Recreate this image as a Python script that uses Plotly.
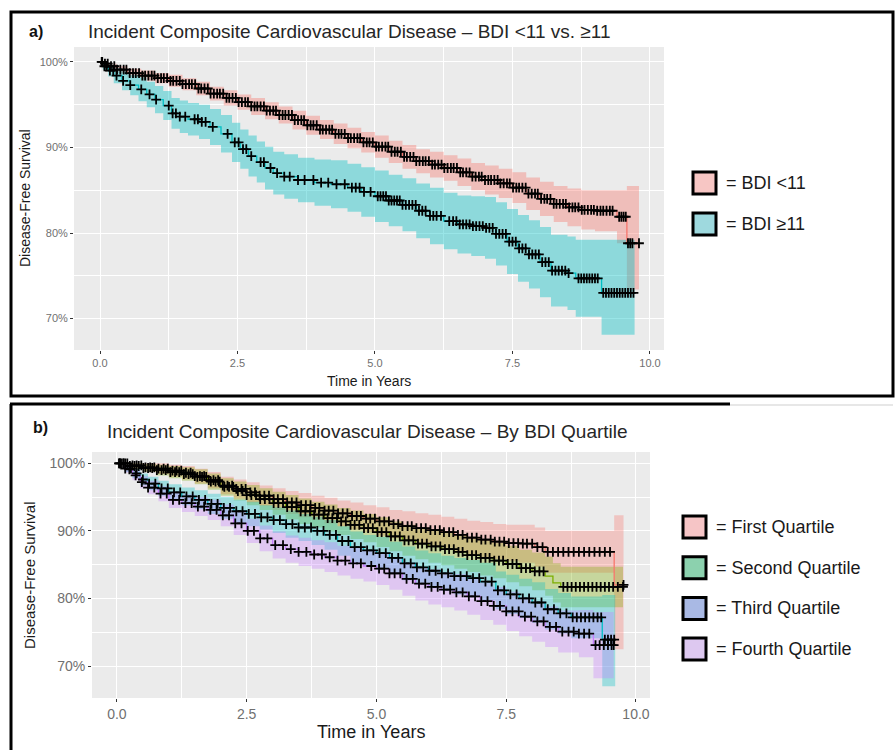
import numpy as np
import plotly.graph_objects as go

# ---------------- DATA: panel a) ----------------
a_names = ["= BDI <11", "= BDI \u226511"]

a1_t = [0, 0.05, 0.15, 0.3, 0.5, 0.75, 1.0, 1.25, 1.5, 1.75, 2.0, 2.25, 2.5, 2.75, 3.0, 3.25, 3.5, 3.75, 4.0,
        4.25, 4.5, 4.75, 5.0, 5.25, 5.5, 5.75, 6.0, 6.25, 6.5, 6.75, 7.0, 7.25, 7.5, 7.75, 8.0, 8.25, 8.5,
        8.75, 9.0, 9.4, 9.58, 9.8]
a1_s = [100, 99.8, 99.5, 99.1, 98.7, 98.4, 98.1, 97.8, 97.4, 96.9, 96.3, 95.8, 95.3, 94.8, 94.3, 93.8, 93.2,
        92.6, 92.1, 91.6, 91.1, 90.6, 90.1, 89.5, 88.9, 88.4, 88.0, 87.6, 87.1, 86.6, 86.2, 85.8, 85.3, 84.6,
        84.0, 83.4, 83.0, 82.7, 82.6, 81.9, 78.8, 78.8]
a1_hi = [100, 100, 99.8, 99.5, 99.2, 99.0, 98.7, 98.5, 98.1, 97.7, 97.1, 96.7, 96.2, 95.8, 95.3, 94.8, 94.3,
         93.7, 93.2, 92.8, 92.3, 91.8, 91.4, 90.8, 90.3, 89.8, 89.5, 89.1, 88.7, 88.2, 87.9, 87.5, 87.1, 86.5,
         86.0, 85.5, 85.2, 85.0, 85.0, 85.0, 85.5, 85.5]
a1_lo = [100, 99.6, 99.2, 98.7, 98.2, 97.8, 97.5, 97.1, 96.7, 96.1, 95.5, 94.9, 94.4, 93.8, 93.3, 92.8, 92.1,
         91.5, 91.0, 90.4, 89.9, 89.4, 88.8, 88.2, 87.5, 87.0, 86.5, 86.1, 85.5, 85.0, 84.5, 84.1, 83.5, 82.7,
         82.0, 81.3, 80.8, 80.4, 80.2, 78.8, 73.4, 73.4]
a1_cens = [0.04, 0.09, 0.14, 0.2, 0.26, 0.31, 0.37, 0.43, 0.48, 0.54, 0.6, 0.65, 0.71, 0.77, 0.82, 0.88, 0.94,
           0.99, 1.05, 1.11, 1.16, 1.22, 1.28, 1.33, 1.39, 1.45, 1.5, 1.56, 1.62, 1.67, 1.73, 1.79, 1.84, 1.9,
           1.96, 2.01, 2.07, 2.13, 2.18, 2.24, 2.3, 2.35, 2.41, 2.47, 2.52, 2.58, 2.64, 2.69, 2.75, 2.81, 2.86,
           2.92, 2.98, 3.03, 3.09, 3.15, 3.2, 3.26, 3.32, 3.37, 3.43, 3.49, 3.54, 3.6, 3.66, 3.71, 3.77, 3.83,
           3.88, 3.94, 4.0, 4.05, 4.11, 4.17, 4.22, 4.28, 4.34, 4.39, 4.45, 4.51, 4.56, 4.62, 4.68, 4.73, 4.79,
           4.85, 4.9, 4.96, 5.02, 5.07, 5.13, 5.19, 5.24, 5.3, 5.36, 5.41, 5.47, 5.53, 5.58, 5.64, 5.7, 5.75,
           5.81, 5.87, 5.92, 5.98, 6.04, 6.09, 6.15, 6.21, 6.26, 6.32, 6.38, 6.43, 6.49, 6.55, 6.6, 6.66, 6.72,
           6.77, 6.83, 6.89, 6.94, 7.0, 7.06, 7.11, 7.17, 7.23, 7.28, 7.34, 7.4, 7.45, 7.51, 7.57, 7.62, 7.68,
           7.74, 7.79, 7.85, 7.91, 7.96, 8.02, 8.08, 8.13, 8.19, 8.25, 8.3, 8.36, 8.42, 8.47, 8.53, 8.59, 8.64,
           8.7, 8.76, 8.81, 8.87, 8.93, 8.98, 9.04, 9.1, 9.15, 9.21, 9.27, 9.32, 9.44, 9.48, 9.52, 9.56, 9.6,
           9.64, 9.68, 9.8]

a2_t = [0, 0.05, 0.15, 0.25, 0.4, 0.55, 0.7, 0.85, 1.0, 1.15, 1.3, 1.45, 1.6, 1.8, 2.0, 2.2, 2.4, 2.55, 2.7,
        2.85, 3.0, 3.15, 3.35, 3.6, 3.9, 4.2, 4.5, 4.75, 5.0, 5.25, 5.5, 5.75, 6.0, 6.25, 6.5, 6.75, 7.0,
        7.2, 7.4, 7.6, 7.8, 8.0, 8.2, 8.5, 8.65, 9.12, 9.72]
a2_s = [100, 99.5, 99.0, 98.4, 97.8, 97.3, 96.8, 96.2, 95.6, 94.9, 94.0, 93.6, 93.3, 93.0, 92.4, 91.6, 90.6,
        89.8, 89.0, 88.3, 87.6, 87.0, 86.6, 86.2, 85.9, 85.7, 85.3, 84.8, 84.3, 83.8, 83.3, 82.6, 82.0, 81.4,
        81.0, 80.8, 80.6, 79.9, 79.0, 78.2, 77.5, 76.6, 75.6, 75.3, 74.7, 73.0, 73.0]
a2_hi = [100, 99.9, 99.7, 99.3, 98.9, 98.5, 98.2, 97.7, 97.2, 96.6, 95.8, 95.5, 95.2, 95.0, 94.5, 93.8, 92.9,
         92.1, 91.4, 90.7, 90.1, 89.5, 89.2, 88.8, 88.6, 88.5, 88.1, 87.7, 87.3, 86.8, 86.4, 85.8, 85.3, 84.7,
         84.4, 84.3, 84.2, 83.6, 82.8, 82.1, 81.5, 80.7, 79.8, 79.6, 79.2, 79.2, 79.2]
a2_lo = [100, 99.1, 98.3, 97.5, 96.7, 96.1, 95.4, 94.7, 94.0, 93.2, 92.2, 91.7, 91.4, 91.0, 90.3, 89.4, 88.3,
         87.5, 86.6, 85.9, 85.1, 84.5, 84.0, 83.6, 83.2, 82.9, 82.5, 81.9, 81.3, 80.8, 80.2, 79.4, 78.7, 78.1,
         77.6, 77.3, 77.0, 76.2, 75.2, 74.3, 73.5, 72.5, 71.4, 71.0, 70.2, 68.1, 68.1]
a2_cens = [0.03, 0.08, 0.12, 0.18, 0.24, 0.3, 0.42, 0.55, 0.75, 0.9, 1.02, 1.25, 1.32, 1.38, 1.45, 1.55, 1.72,
           1.78, 1.85, 1.92, 2.05, 2.32, 2.45, 2.52, 2.6, 2.66, 2.75, 2.92, 2.98, 3.1, 3.22, 3.35, 3.45, 3.6,
           3.72, 3.88, 4.02, 4.15, 4.3, 4.45, 4.58, 4.65, 4.72, 4.8, 4.92, 5.05, 5.1, 5.15, 5.2, 5.25, 5.3,
           5.35, 5.4, 5.45, 5.5, 5.56, 5.62, 5.68, 5.74, 5.8, 5.86, 5.92, 6.0, 6.06, 6.12, 6.2, 6.35, 6.42,
           6.48, 6.54, 6.6, 6.66, 6.72, 6.78, 6.84, 6.9, 6.96, 7.02, 7.08, 7.14, 7.2, 7.26, 7.32, 7.38, 7.44,
           7.5, 7.56, 7.62, 7.68, 7.74, 7.8, 7.86, 7.92, 7.98, 8.04, 8.1, 8.16, 8.22, 8.28, 8.34, 8.4, 8.46,
           8.52, 8.7, 8.75, 8.8, 8.85, 8.9, 8.95, 9.0, 9.05, 9.15, 9.2, 9.25, 9.3, 9.35, 9.4, 9.45, 9.5, 9.55,
           9.6, 9.65, 9.7]

# ---------------- DATA: panel b) ----------------
b_names = ["= First Quartile", "= Second Quartile", "= Third Quartile", "= Fourth Quartile"]

b1_t = [0, 0.25, 0.5, 0.75, 1.0, 1.25, 1.5, 1.75, 2.0, 2.25, 2.5, 2.75, 3.0, 3.25, 3.5, 3.75, 4.0, 4.25, 4.5,
        4.75, 5.0, 5.25, 5.5, 5.75, 6.0, 6.25, 6.5, 6.75, 7.0, 7.25, 7.5, 7.75, 8.05, 8.25, 9.58, 9.76]
b1_s = [100, 99.7, 99.4, 99.2, 98.9, 98.6, 98.1, 97.5, 96.7, 96.2, 95.7, 95.2, 94.7, 94.2, 93.8, 93.4, 93.0,
        92.6, 92.2, 91.8, 91.4, 91.0, 90.7, 90.4, 90.1, 89.8, 89.4, 89.0, 88.7, 88.4, 88.2, 88.1, 87.6, 86.9,
        82.0, 82.0]
b1_hi = [100, 100, 100, 100, 99.8, 99.6, 99.2, 98.7, 98.0, 97.6, 97.2, 96.7, 96.3, 95.9, 95.6, 95.2, 94.9,
         94.5, 94.2, 93.8, 93.5, 93.1, 92.9, 92.6, 92.4, 92.1, 91.8, 91.5, 91.3, 91.0, 90.9, 90.9, 90.5, 90.0,
         92.3, 92.3]
b1_lo = [100, 99.3, 98.8, 98.4, 98.0, 97.6, 97.0, 96.3, 95.4, 94.8, 94.2, 93.7, 93.1, 92.5, 92.0, 91.6, 91.1,
         90.7, 90.2, 89.8, 89.3, 88.9, 88.5, 88.2, 87.8, 87.5, 87.0, 86.5, 86.1, 85.8, 85.5, 85.3, 84.7, 83.8,
         72.5, 72.5]
b1_cens = [0.05, 0.12, 0.2, 0.3, 0.38, 0.47, 0.55, 0.64, 0.72, 0.8, 0.9, 0.98, 1.07, 1.15, 1.24, 1.33, 1.42,
           1.5, 1.6, 1.68, 1.77, 1.86, 1.95, 2.04, 2.13, 2.22, 2.3, 2.4, 2.48, 2.57, 2.66, 2.75, 2.84, 2.93,
           3.02, 3.1, 3.2, 3.28, 3.37, 3.46, 3.55, 3.64, 3.73, 3.82, 3.9, 4.0, 4.08, 4.17, 4.26, 4.35, 4.44,
           4.53, 4.62, 4.7, 4.8, 4.88, 4.97, 5.06, 5.15, 5.24, 5.33, 5.42, 5.5, 5.6, 5.68, 5.77, 5.86, 5.95,
           6.04, 6.13, 6.22, 6.3, 6.4, 6.48, 6.57, 6.66, 6.75, 6.84, 6.93, 7.02, 7.1, 7.2, 7.28, 7.37, 7.46,
           7.55, 7.64, 7.73, 7.82, 7.9, 8.0, 8.1, 8.2, 8.3, 8.4, 8.5, 8.6, 8.7, 8.8, 8.9, 9.0, 9.1, 9.2, 9.3,
           9.4, 9.5, 9.76]

b2_t = [0, 0.25, 0.5, 0.75, 1.0, 1.25, 1.5, 1.75, 2.0, 2.25, 2.5, 2.75, 3.0, 3.25, 3.5, 3.75, 4.0, 4.25, 4.5,
        4.75, 5.0, 5.25, 5.5, 5.75, 6.0, 6.25, 6.5, 6.75, 7.0, 7.25, 7.5, 7.75, 8.0, 8.25, 8.4, 8.55, 9.75]
b2_s = [100, 99.6, 99.3, 99.0, 98.7, 98.4, 98.0, 97.3, 96.5, 95.9, 95.3, 94.7, 94.1, 93.5, 92.9, 92.4, 91.9,
        91.4, 90.9, 90.4, 89.8, 89.2, 88.6, 88.1, 87.7, 87.3, 86.9, 86.4, 86.0, 85.6, 85.1, 84.5, 84.0, 83.3,
        82.3, 81.7, 81.7]
b2_hi = [100, 100, 99.9, 99.8, 99.6, 99.4, 99.1, 98.5, 97.8, 97.3, 96.8, 96.3, 95.8, 95.3, 94.8, 94.3, 93.9,
         93.4, 93.0, 92.5, 92.0, 91.4, 90.9, 90.4, 90.1, 89.7, 89.4, 88.9, 88.6, 88.2, 87.8, 87.2, 86.8, 86.2,
         85.2, 84.7, 84.7]
b2_lo = [100, 99.2, 98.7, 98.2, 97.8, 97.4, 96.9, 96.1, 95.2, 94.5, 93.8, 93.1, 92.4, 91.7, 91.0, 90.5, 89.9,
         89.4, 88.8, 88.3, 87.6, 87.0, 86.3, 85.8, 85.3, 84.9, 84.4, 83.9, 83.4, 83.0, 82.4, 81.8, 81.2, 80.4,
         79.4, 78.7, 78.7]
b2_cens = [0.08, 0.16, 0.25, 0.34, 0.42, 0.51, 0.6, 0.68, 0.77, 0.86, 0.94, 1.03, 1.12, 1.2, 1.29, 1.38, 1.46,
           1.55, 1.64, 1.72, 1.81, 1.9, 1.98, 2.07, 2.16, 2.24, 2.33, 2.42, 2.5, 2.59, 2.68, 2.76, 2.85, 2.94,
           3.02, 3.11, 3.2, 3.28, 3.37, 3.46, 3.54, 3.63, 3.72, 3.8, 3.89, 3.98, 4.06, 4.15, 4.24, 4.32, 4.41,
           4.5, 4.58, 4.67, 4.76, 4.84, 4.93, 5.02, 5.1, 5.19, 5.28, 5.36, 5.45, 5.54, 5.62, 5.71, 5.8, 5.88,
           5.97, 6.06, 6.14, 6.23, 6.32, 6.4, 6.49, 6.58, 6.66, 6.75, 6.84, 6.92, 7.01, 7.1, 7.18, 7.27, 7.36,
           7.44, 7.53, 7.62, 7.7, 7.79, 7.88, 7.96, 8.05, 8.14, 8.22, 8.6, 8.68, 8.76, 8.84, 8.92, 9.0, 9.08,
           9.16, 9.24, 9.32, 9.4, 9.48, 9.56, 9.65, 9.75]

b3_t = [0, 0.15, 0.3, 0.45, 0.6, 0.8, 1.0, 1.25, 1.5, 1.75, 2.0, 2.25, 2.5, 2.75, 3.0, 3.25, 3.5, 3.75, 4.0,
        4.25, 4.5, 4.75, 5.0, 5.25, 5.5, 5.75, 6.0, 6.25, 6.5, 6.75, 7.0, 7.3, 7.5, 7.75, 8.0, 8.25, 8.5,
        8.75, 9.35, 9.6]
b3_s = [100, 99.2, 98.5, 97.6, 97.0, 96.3, 95.7, 95.1, 94.6, 94.0, 93.4, 92.9, 92.5, 92.0, 91.6, 91.0, 90.5,
        90.0, 89.4, 88.5, 87.6, 87.1, 86.7, 86.0, 85.2, 84.6, 84.1, 83.7, 83.3, 83.0, 82.5, 81.2, 80.6, 80.0,
        79.4, 78.4, 77.8, 77.2, 73.9, 73.9]
b3_hi = [100, 99.7, 99.2, 98.5, 98.0, 97.4, 96.9, 96.4, 96.0, 95.5, 95.0, 94.6, 94.3, 93.8, 93.5, 93.0, 92.5,
         92.1, 91.6, 90.7, 89.9, 89.4, 89.1, 88.4, 87.7, 87.1, 86.7, 86.3, 86.0, 85.7, 85.3, 84.0, 83.5, 82.9,
         82.4, 81.4, 80.8, 80.3, 80.5, 80.5]
b3_lo = [100, 98.7, 97.8, 96.7, 96.0, 95.2, 94.5, 93.8, 93.2, 92.5, 91.8, 91.2, 90.7, 90.2, 89.7, 89.0, 88.5,
         87.9, 87.2, 86.3, 85.3, 84.8, 84.3, 83.6, 82.7, 82.1, 81.5, 81.1, 80.6, 80.3, 79.7, 78.4, 77.7, 77.1,
         76.4, 75.4, 74.8, 74.1, 67.0, 67.0]
b3_cens = [0.06, 0.16, 0.27, 0.38, 0.5, 0.62, 0.74, 0.86, 0.98, 1.1, 1.22, 1.34, 1.46, 1.58, 1.7, 1.82, 1.94,
           2.06, 2.18, 2.3, 2.42, 2.54, 2.66, 2.78, 2.9, 3.02, 3.14, 3.26, 3.38, 3.5, 3.62, 3.74, 3.86, 3.98,
           4.1, 4.22, 4.34, 4.46, 4.58, 4.7, 4.82, 4.94, 5.06, 5.18, 5.3, 5.42, 5.54, 5.66, 5.78, 5.9, 6.02,
           6.14, 6.26, 6.38, 6.5, 6.62, 6.74, 6.86, 6.98, 7.1, 7.22, 7.34, 7.46, 7.58, 7.7, 7.82, 7.94, 8.06,
           8.18, 8.3, 8.42, 8.54, 8.66, 8.78, 8.86, 8.94, 9.02, 9.1, 9.18, 9.26, 9.33, 9.4, 9.46, 9.52, 9.58]

b4_t = [0, 0.15, 0.3, 0.45, 0.6, 0.8, 1.0, 1.25, 1.5, 1.75, 2.0, 2.25, 2.5, 2.75, 3.0, 3.25, 3.5, 3.75, 4.0,
        4.25, 4.5, 4.75, 5.0, 5.25, 5.5, 5.75, 6.0, 6.25, 6.5, 6.75, 7.0, 7.25, 7.5, 7.75, 8.0, 8.25, 8.5,
        8.9, 9.18, 9.57]
b4_s = [100, 99.1, 98.2, 97.2, 96.4, 95.5, 94.6, 94.1, 93.6, 93.1, 92.3, 91.1, 90.0, 88.9, 87.9, 87.3, 86.9,
        86.5, 86.1, 85.6, 85.2, 84.8, 84.4, 83.7, 82.9, 82.2, 81.7, 81.3, 80.9, 80.3, 79.6, 78.9, 78.1, 77.3,
        76.6, 75.8, 75.1, 74.8, 73.1, 73.1]
b4_hi = [100, 99.6, 98.9, 98.1, 97.4, 96.6, 95.8, 95.4, 95.0, 94.6, 93.9, 92.8, 91.8, 90.8, 89.9, 89.3, 89.0,
         88.6, 88.3, 87.8, 87.5, 87.1, 86.8, 86.1, 85.4, 84.7, 84.3, 83.9, 83.6, 83.0, 82.4, 81.7, 81.0, 80.2,
         79.6, 78.8, 78.2, 78.3, 78.0, 78.0]
b4_lo = [100, 98.6, 97.5, 96.3, 95.4, 94.4, 93.4, 92.8, 92.2, 91.6, 90.7, 89.4, 88.2, 87.0, 85.9, 85.3, 84.8,
         84.4, 83.9, 83.4, 82.9, 82.5, 82.0, 81.3, 80.4, 79.7, 79.1, 78.7, 78.2, 77.6, 76.8, 76.1, 75.2, 74.4,
         73.6, 72.8, 72.0, 71.3, 68.2, 68.2]
b4_cens = [0.04, 0.13, 0.24, 0.36, 0.48, 0.6, 0.72, 0.84, 0.96, 1.08, 1.2, 1.32, 1.44, 1.56, 1.68, 1.8, 1.92,
           2.04, 2.16, 2.28, 2.4, 2.52, 2.64, 2.76, 2.9, 3.05, 3.2, 3.35, 3.5, 3.65, 3.8, 3.95, 4.1, 4.25, 4.4,
           4.55, 4.7, 4.9, 5.05, 5.15, 5.25, 5.35, 5.46, 5.58, 5.7, 5.82, 5.94, 6.06, 6.18, 6.3, 6.42, 6.54,
           6.66, 6.78, 6.9, 7.02, 7.14, 7.26, 7.38, 7.5, 7.62, 7.74, 7.86, 7.98, 8.1, 8.22, 8.34, 8.46, 8.58,
           8.7, 8.8, 8.9, 9.0, 9.1, 9.22, 9.3, 9.38, 9.46, 9.53, 9.57]

x_tickvals = [0, 2.5, 5, 7.5, 10]
x_ticktext = ["0.0", "2.5", "5.0", "7.5", "10.0"]
x_minor = [1.25, 3.75, 6.25, 8.75]
y_tickvals = [70, 80, 90, 100]
y_ticktext = ["70%", "80%", "90%", "100%"]
y_minor = [75, 85, 95]

title_a = "Incident Composite Cardiovascular Disease \u2013 BDI <11 vs. \u226511"
title_b = "Incident Composite Cardiovascular Disease \u2013 By BDI Quartile"
y_title = "Disease-Free Survival"
x_title = "Time in Years"

# ---------------- STYLE ----------------
FONT = "Liberation Sans, Arial, sans-serif"
W, H = 896, 750
a_line = ["#F8766D", "#00BFC4"]
a_fill = ["rgba(248,118,109,0.38)", "rgba(0,191,196,0.40)"]
a_legend = ["#F7C6C4", "#9ED9DE"]
b_line = ["#F8766D", "#7CAE00", "#00BFC4", "#C77CFF"]
b_fill = ["rgba(248,118,109,0.33)", "rgba(124,174,0,0.33)", "rgba(0,191,196,0.33)", "rgba(199,124,255,0.33)"]
b_legend = ["#F6C5C6", "#8CD1AE", "#A9B9E4", "#DDC8F0"]


def px(x):
    return x / W


def py(y):
    return 1 - y / H


def step_at(times, surv, t):
    idx = np.searchsorted(np.asarray(times), np.asarray(t), side="right") - 1
    return np.asarray(surv)[idx]


fig = go.Figure()

groups_a = [(a1_t, a1_s, a1_lo, a1_hi, a1_cens), (a2_t, a2_s, a2_lo, a2_hi, a2_cens)]
groups_b = [(b1_t, b1_s, b1_lo, b1_hi, b1_cens), (b2_t, b2_s, b2_lo, b2_hi, b2_cens),
            (b3_t, b3_s, b3_lo, b3_hi, b3_cens), (b4_t, b4_s, b4_lo, b4_hi, b4_cens)]


def add_panel(groups, lines, fills, xa, ya, msize):
    for (t, s, lo, hi, c), col, fc in zip(groups, lines, fills):
        fig.add_trace(go.Scatter(x=t, y=lo, mode="lines", line=dict(width=0, shape="hv"),
                                 hoverinfo="skip", showlegend=False, xaxis=xa, yaxis=ya))
        fig.add_trace(go.Scatter(x=t, y=hi, mode="lines", line=dict(width=0, shape="hv"),
                                 fill="tonexty", fillcolor=fc, hoverinfo="skip", showlegend=False,
                                 xaxis=xa, yaxis=ya))
    for (t, s, lo, hi, c), col in zip(groups, lines):
        fig.add_trace(go.Scatter(x=t, y=s, mode="lines", line=dict(width=1.3, color=col, shape="hv"),
                                 showlegend=False, xaxis=xa, yaxis=ya))
    for (t, s, lo, hi, c), col in zip(groups, lines):
        fig.add_trace(go.Scatter(x=c, y=step_at(t, s, c), mode="markers",
                                 marker=dict(symbol="cross-thin", size=msize, color="black",
                                             line=dict(width=1.8, color="black")),
                                 showlegend=False, xaxis=xa, yaxis=ya))


add_panel(groups_a, a_line, a_fill, "x", "y", 7)
add_panel(groups_b, b_line, b_fill, "x2", "y2", 7)


def axis(domain, rng, tv, tt, minor, size, anchor):
    return dict(domain=domain, range=rng, anchor=anchor, tickmode="array", tickvals=tv, ticktext=tt,
                showgrid=True, gridcolor="white", gridwidth=1.1, zeroline=False, showline=False,
                ticks="outside", ticklen=3, tickwidth=1, tickcolor="#333333",
                tickfont=dict(family=FONT, size=size, color="#707070"),
                minor=dict(tickmode="array", tickvals=minor, showgrid=True, gridcolor="white",
                           gridwidth=0.5, ticks=""),
                fixedrange=True)


layout = dict(
    width=W, height=H, margin=dict(l=0, r=0, t=0, b=0), paper_bgcolor="white", plot_bgcolor="#EBEBEB",
    showlegend=False, font=dict(family=FONT),
    xaxis=axis([px(74), px(664)], [-0.473, 10.255], x_tickvals, x_ticktext, x_minor, 11, "y"),
    yaxis=axis([py(350), py(47)], [66.32, 101.75], y_tickvals, y_ticktext, y_minor, 11, "x"),
    xaxis2=axis([px(92), px(650)], [-0.48, 10.27], x_tickvals, x_ticktext, x_minor, 14, "y2"),
    yaxis2=axis([py(698), py(452)], [65.27, 101.67], y_tickvals, y_ticktext, y_minor, 14, "x2"),
)
fig.update_layout(**layout)

ann = []
shapes = []


def text(x, y, s, size, xanchor="left", bold=False, angle=0, color="#1a1a1a"):
    ann.append(dict(x=px(x), y=py(y), xref="paper", yref="paper", text=("<b>%s</b>" % s) if bold else s,
                    showarrow=False, xanchor=xanchor, yanchor="middle", textangle=angle,
                    font=dict(family=FONT, size=size, color=color)))


# panel a texts
text(27, 32, "a)", 16, bold=True, color="#111111")
text(86, 32, title_a, 19, color="#262626")
text(25, 198, y_title, 14, xanchor="center", angle=-90)
text(369, 381, x_title, 14, xanchor="center")
# panel b texts
text(31, 427, "b)", 16, bold=True, color="#111111")
text(105, 432, title_b, 19, color="#262626")
text(29, 575, y_title, 15, xanchor="center", angle=-90)
text(371, 732, x_title, 18, xanchor="center")

# legends
for i, (name, col) in enumerate(zip(a_names, a_legend)):
    yc = 183 + i * 41
    shapes.append(dict(type="rect", xref="paper", yref="paper", x0=px(693), x1=px(716), y0=py(yc - 11),
                       y1=py(yc + 11), fillcolor=col, line=dict(color="black", width=3)))
    text(724, yc, name, 18, color="#1a1a1a")

for i, (name, col) in enumerate(zip(b_names, b_legend)):
    yc = 527 + i * 40.7
    shapes.append(dict(type="rect", xref="paper", yref="paper", x0=px(683), x1=px(706), y0=py(yc - 11),
                       y1=py(yc + 11), fillcolor=col, line=dict(color="black", width=3)))
    text(714, yc, name, 18, color="#1a1a1a")

# panel frames
shapes.append(dict(type="rect", xref="paper", yref="paper", x0=px(11), x1=px(893), y0=py(396), y1=py(12),
                   line=dict(color="black", width=3)))
shapes.append(dict(type="line", xref="paper", yref="paper", x0=px(11), x1=px(11), y0=py(404), y1=py(750),
                   line=dict(color="black", width=3)))
shapes.append(dict(type="line", xref="paper", yref="paper", x0=px(10), x1=px(730), y0=py(404), y1=py(404),
                   line=dict(color="black", width=3)))
shapes.append(dict(type="line", xref="paper", yref="paper", x0=px(730), x1=px(893), y0=py(405), y1=py(405),
                   line=dict(color="#cfcfcf", width=1)))

fig.update_layout(annotations=ann, shapes=shapes)
fig.write_html("out.html", config={"displayModeBar": False},
               post_script="document.body.style.margin='0';document.body.style.overflow='hidden';")
